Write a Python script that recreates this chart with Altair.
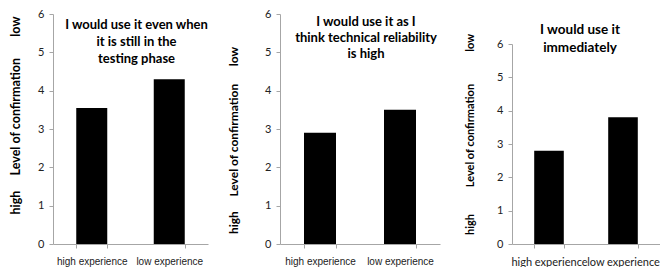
import altair as alt
import pandas as pd

groups = ["high experience", "low experience"]
vals_testing = [3.55, 4.3]
vals_reliability = [2.9, 3.5]
vals_immediately = [2.8, 3.8]
title_testing = ["I would use it even when", "it is still in the", "testing phase"]
title_reliability = ["I would use it as I", "think technical reliability", "is high"]
title_immediately = ["I would use it", "immediately"]
y_ticks = [0, 1, 2, 3, 4, 5, 6]

NB = "\u00a0"
AX = "#a6a6a6"


def ytitle(g1, g2):
    return "high" + NB * g1 + "Level of confirmation" + NB * g2 + "low"


def panel(vals, title, width, yrange, xfont, xsize, tsize, tlh, toffset, tdx,
          ysize, ytx, yty, g1, g2):
    df = pd.DataFrame({"group": groups, "value": vals})
    if yrange:
        yscale = alt.Scale(domain=[0, 6], nice=False, range=yrange)
    else:
        yscale = alt.Scale(domain=[0, 6], nice=False)
    return alt.Chart(
        df,
        title=alt.Title(title, font="Lato", fontSize=tsize, fontWeight="bold",
                        lineHeight=tlh, anchor="middle", frame="group",
                        offset=toffset, dx=tdx, color="black"),
    ).mark_bar(color="black").encode(
        x=alt.X("group:N", sort=groups, title=None,
                scale=alt.Scale(paddingInner=0.6, paddingOuter=0.3),
                axis=alt.Axis(labelAngle=0, labelFont=xfont, labelFontSize=xsize,
                              labelPadding=8, tickSize=4, tickBand="extent",
                              domainColor=AX, tickColor=AX, labelColor="#222")),
        y=alt.Y("value:Q", scale=yscale, title=ytitle(g1, g2),
                axis=alt.Axis(values=y_ticks, grid=False, tickSize=4, labelPadding=5,
                              labelFont="Lato", labelFontSize=11, labelColor="#222",
                              domainColor=AX, tickColor=AX,
                              titleFont="Lato", titleFontSize=ysize,
                              titleFontWeight="bold", titleColor="black",
                              titleX=ytx, titleY=yty, titleAlign="center",
                              titleAngle=270, titleBaseline="middle")),
    ).properties(width=width, height=230)


p1 = panel(vals_testing, title_testing, 155, None, "Liberation Sans", 10,
           13, 17, -58, 6, 12.5, -38, 101, 5, 7)
p2 = panel(vals_reliability, title_reliability, 160, None, "Liberation Sans", 10,
           13, 16, -53, 6, 12, -47, 126, 5, 6)
p3 = panel(vals_immediately, title_immediately, 148, [230, 30], "Lato", 11,
           13.5, 18, -40, -6, 11, -42, 120, 10, 12)

chart = alt.hconcat(p1, p2, p3, spacing=72, bounds="flush").properties(
    padding={"left": 0, "top": 0, "right": 0, "bottom": 0}
).configure_view(stroke=None)

chart.save("out.html", embed_options={"renderer": "svg", "actions": False})
